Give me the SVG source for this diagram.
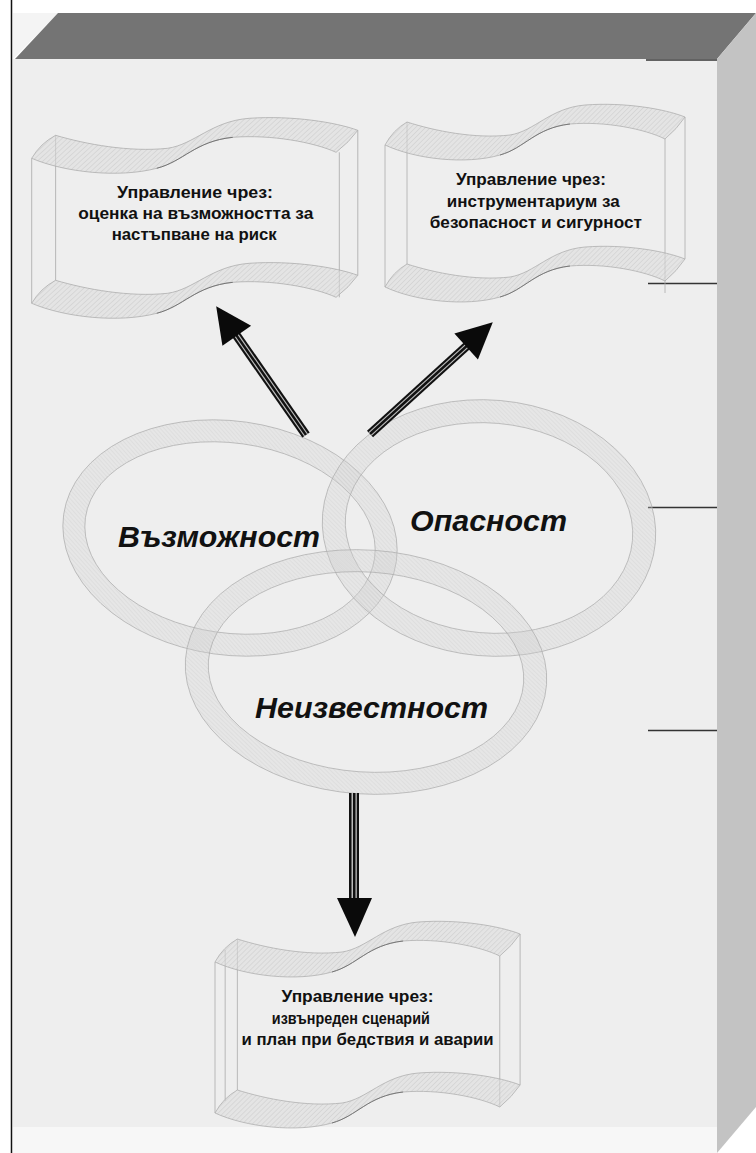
<svg xmlns="http://www.w3.org/2000/svg" width="756" height="1153" viewBox="0 0 756 1153">
<style>
.band{fill:url(#hatch);stroke:#a8a8a8;stroke-width:0.7}
.vl{stroke:#ababab;stroke-width:0.8;fill:none}
.tw{fill:none;stroke:#707070;stroke-width:0.9}
.ring{fill:url(#hatchR);fill-rule:evenodd;stroke:#ababab;stroke-width:0.7}
.bt{font-family:"Liberation Sans",Arial,sans-serif;font-weight:bold;font-size:16px;fill:#111;text-anchor:middle}
.rt{font-family:"Liberation Sans",Arial,sans-serif;font-weight:bold;font-style:italic;font-size:29px;fill:#111}
.tick{stroke:#333;stroke-width:1.5}
</style>
<defs>
<pattern id="hatch" patternUnits="userSpaceOnUse" width="3.5" height="3.5" patternTransform="rotate(45)">
<rect width="3.5" height="3.5" fill="#dcdcdc" fill-opacity="0.55"/>
<line x1="0" y1="0" x2="0" y2="3.5" stroke="#b4b4b4" stroke-width="0.6"/>
</pattern>
<pattern id="hatchR" patternUnits="userSpaceOnUse" width="3" height="3" patternTransform="rotate(-50)">
<rect width="3" height="3" fill="#d4d4d4" fill-opacity="0.3"/>
<line x1="0" y1="0" x2="0" y2="3" stroke="#a4a4a4" stroke-width="0.5" stroke-opacity="0.55"/>
</pattern>
<path id="band" d="M22,19 C50,28 90,36 125,32 C150,28 165,5 200,2 C240,-1 280,6 300,14 Q292,26 280,36 C260,26 220,18 185,21 C150,25 140,45 115,52 C80,62 30,56 0,42 Q8,27 22,19 Z"/>
<path id="twist" d="M115,52 C140,45 150,25 185,21"/>
</defs>

<!-- background box -->
<g id="box">
<rect x="0" y="0" width="756" height="1153" fill="#ffffff"/>
<polygon points="13,59 58,13 13,13" fill="#f4f4f4"/>
<rect x="13" y="59" width="704" height="1094" fill="#eeeeee"/>
<rect x="13" y="1127" width="704" height="26" fill="#f7f7f7"/>
<polygon points="15,59 58,13 756,13 717,59" fill="#747474"/>
<polygon points="717,59 756,13 756,1107 717,1153" fill="#c3c3c3"/>
<line x1="11.5" y1="0" x2="11.5" y2="1153" stroke="#111" stroke-width="1.5"/>
<line class="tick" x1="646" y1="60" x2="717" y2="60" stroke-width="2"/>
<line class="tick" x1="648" y1="283.5" x2="717" y2="283.5"/>
<line class="tick" x1="648" y1="507.5" x2="717" y2="507.5"/>
<line class="tick" x1="648" y1="730.5" x2="717" y2="730.5"/>
</g>

<!-- banners -->
<g id="banner-left" transform="translate(31.7,116.3) scale(1.087,1)">
<line class="vl" x1="0" y1="42" x2="0" y2="187"/>
<line class="vl" x1="22" y1="19" x2="22" y2="164"/>
<line class="vl" x1="283" y1="36" x2="283" y2="181"/>
<line class="vl" x1="300" y1="14" x2="300" y2="159"/>
<use href="#band" class="band"/>
<use href="#twist" class="tw"/>
<g transform="translate(0,145)"><use href="#band" class="band"/><use href="#twist" class="tw"/></g>
</g>
<g id="banner-left-text">
<text class="bt" x="195" y="198" textLength="156" lengthAdjust="spacingAndGlyphs">Управление чрез:</text>
<text class="bt" x="195.8" y="219" textLength="235" lengthAdjust="spacingAndGlyphs">оценка на възможността за</text>
<text class="bt" x="194.2" y="240" textLength="165" lengthAdjust="spacingAndGlyphs">настъпване на риск</text>
</g>

<g id="banner-right" transform="translate(385,103)">
<line class="vl" x1="0" y1="42" x2="0" y2="184"/>
<line class="vl" x1="22" y1="19" x2="22" y2="161"/>
<line class="vl" x1="280" y1="36" x2="280" y2="190"/>
<line class="vl" x1="300" y1="14" x2="300" y2="156"/>
<use href="#band" class="band"/>
<use href="#twist" class="tw"/>
<g transform="translate(0,142)"><use href="#band" class="band"/><use href="#twist" class="tw"/></g>
</g>
<g id="banner-right-text">
<text class="bt" x="531" y="185" textLength="150" lengthAdjust="spacingAndGlyphs">Управление чрез:</text>
<text class="bt" x="533.3" y="207" textLength="173" lengthAdjust="spacingAndGlyphs">инструментариум за</text>
<text class="bt" x="535.8" y="227.5" textLength="212" lengthAdjust="spacingAndGlyphs">безопасност и сигурност</text>
</g>

<g id="banner-bottom" transform="translate(215,920) scale(1.017,1)">
<line class="vl" x1="0" y1="42" x2="0" y2="193"/>
<line class="vl" x1="10" y1="30" x2="10" y2="181"/>
<line class="vl" x1="22" y1="19" x2="22" y2="170"/>
<line class="vl" x1="280" y1="36" x2="280" y2="187"/>
<line class="vl" x1="300" y1="14" x2="300" y2="165"/>
<use href="#band" class="band"/>
<use href="#twist" class="tw"/>
<g transform="translate(0,151)"><use href="#band" class="band"/><use href="#twist" class="tw"/></g>
</g>
<g id="banner-bottom-text">
<text class="bt" x="357.5" y="1002" textLength="152" lengthAdjust="spacingAndGlyphs">Управление чрез:</text>
<text class="bt" x="350.8" y="1023.5" textLength="158" lengthAdjust="spacingAndGlyphs">извънреден сценарий</text>
<text class="bt" x="367.5" y="1045" textLength="252" lengthAdjust="spacingAndGlyphs">и план при бедствия и аварии</text>
</g>

<!-- rings -->
<g id="ring-vazmozhnost" transform="translate(230,538) rotate(8)">
<path class="ring" d="M-168,0 A168,117 0 1 0 168,0 A168,117 0 1 0 -168,0 Z M-146,0 A146,95 0 1 0 146,0 A146,95 0 1 0 -146,0 Z"/>
</g>
<g id="ring-opasnost" transform="translate(489,528) rotate(5)">
<path class="ring" d="M-167,0 A167,128 0 1 0 167,0 A167,128 0 1 0 -167,0 Z M-144,0 A144,105 0 1 0 144,0 A144,105 0 1 0 -144,0 Z"/>
</g>
<g id="ring-neizvestnost" transform="translate(366,672) rotate(4)">
<path class="ring" d="M-181,0 A181,122 0 1 0 181,0 A181,122 0 1 0 -181,0 Z M-158,0 A158,100 0 1 0 158,0 A158,100 0 1 0 -158,0 Z"/>
</g>
<g id="ring-labels">
<text class="rt" x="118" y="547" textLength="202" lengthAdjust="spacingAndGlyphs">Възможност</text>
<text class="rt" x="410" y="531" textLength="157" lengthAdjust="spacingAndGlyphs">Опасност</text>
<text class="rt" x="255" y="718" textLength="233" lengthAdjust="spacingAndGlyphs">Неизвестност</text>
</g>

<!-- connectors -->
<g id="connectors">
<g transform="translate(306,435) rotate(-124.9)">
<rect x="0" y="-4.5" width="125" height="9" fill="#111"/>
<rect x="0" y="-2.4" width="125" height="1.2" fill="#bdbdbd"/>
<rect x="0" y="1.2" width="125" height="1.2" fill="#bdbdbd"/>
<polygon points="121,-17.5 157,0 121,17.5" fill="#0a0a0a"/>
</g>
<g transform="translate(370,434) rotate(-42.3)">
<rect x="0" y="-4.5" width="133" height="9" fill="#111"/>
<rect x="0" y="-2.4" width="133" height="1.2" fill="#bdbdbd"/>
<rect x="0" y="1.2" width="133" height="1.2" fill="#bdbdbd"/>
<polygon points="130,-17.5 166,0 130,17.5" fill="#0a0a0a"/>
</g>
<g>
<rect x="349" y="793" width="10" height="107" fill="#111"/>
<rect x="351.5" y="793" width="1.5" height="107" fill="#bdbdbd"/>
<rect x="355.5" y="793" width="1.3" height="107" fill="#bdbdbd"/>
<polygon points="337,898 372,898 355,937" fill="#0a0a0a"/>
</g>
</g>
</svg>
